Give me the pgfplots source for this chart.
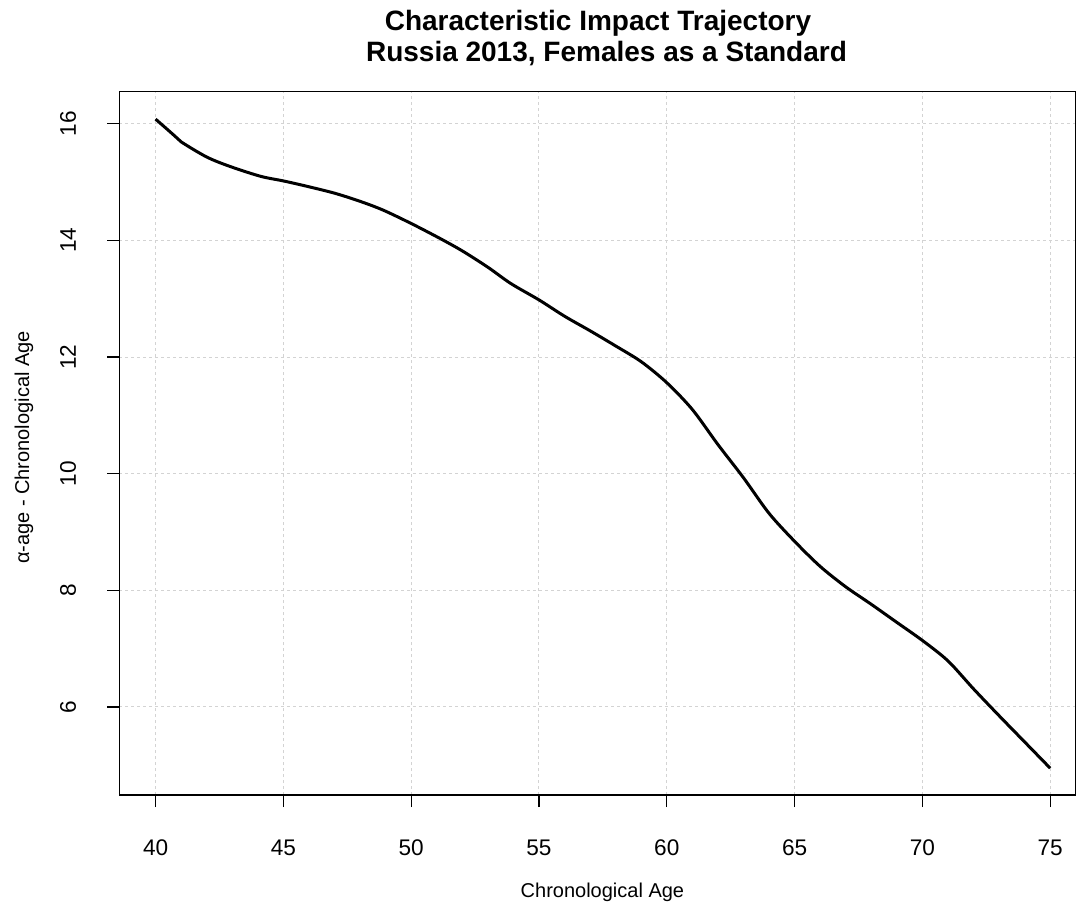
\documentclass[border=0pt]{standalone}
\usepackage{fontspec}
\setmainfont{Liberation Sans}
\usepackage{pgfplots}
\pgfplotsset{compat=1.18}
\definecolor{gridgray}{RGB}{211,211,211}
\begin{document}
\begin{tikzpicture}
\begin{axis}[
  at={(0,0)}, anchor=south west,
  scale only axis,
  width=478.35pt, height=351.65pt,
  xmin=38.58, xmax=76.01,
  ymin=4.49, ymax=16.55,
  xtick={40,45,...,75},
  ytick={6,8,...,16},
  /pgf/number format/assume math mode=true,
  tick label style={font=\fontsize{11.3pt}{13pt}\selectfont, text=black},
  xticklabel style={anchor=center, yshift=-20.25pt},
  yticklabel style={anchor=center, xshift=-19.65pt, rotate=90},
  xtick pos=bottom, ytick pos=left,
  tick align=outside,
  major tick length=6pt,
  every tick/.style={black, line width=0.6pt},
  axis line style={black, line width=0.75pt},
  grid=major,
  major grid style={gridgray, line width=0.5pt, dash pattern=on 1.5pt off 1.5pt},
  xlabel={Chronological Age},
  ylabel={α-age - Chronological Age},
  label style={font=\fontsize{11.2pt}{13pt}\selectfont},
  every axis x label/.style={at={(axis description cs:0.505,0)}, anchor=center, yshift=-48.5pt},
  every axis y label/.style={at={(axis description cs:-0.0996,0.494)}, anchor=center, rotate=90},
]
\addplot[black, line width=1.5pt, smooth, tension=0.5] coordinates {
(40.0,16.08) (40.7,15.81) (41.0,15.69) (42.0,15.43) (42.9,15.27) (44.1,15.10)
(45.0,15.02) (45.9,14.93) (47.0,14.81) (48.0,14.67) (48.9,14.52) (50.0,14.29)
(51.1,14.04) (52.0,13.82) (53.0,13.54) (53.9,13.26) (55.0,12.98) (56.0,12.70)
(57.0,12.45) (58.0,12.19) (59.0,11.92) (60.0,11.56) (61.0,11.10) (62.0,10.50)
(63.0,9.93) (64.0,9.32) (65.0,8.84) (66.0,8.41) (67.0,8.06) (68.0,7.76)
(69.0,7.45) (70.0,7.14) (71.0,6.79) (72.0,6.31) (73.0,5.85) (74.0,5.40)
(75.0,4.95)
};
\end{axis}
\node[anchor=base, font=\bfseries\fontsize{14pt}{16pt}\selectfont] at (239.35pt,382pt) {Characteristic Impact Trajectory};
\node[anchor=base, font=\bfseries\fontsize{14pt}{16pt}\selectfont] at (243.6pt,366.5pt) {Russia 2013, Females as a Standard};
\pgfresetboundingbox
\path[use as bounding box] (-59.65pt,-55.5pt) rectangle (478.35pt,397.5pt);
\end{tikzpicture}
\end{document}
